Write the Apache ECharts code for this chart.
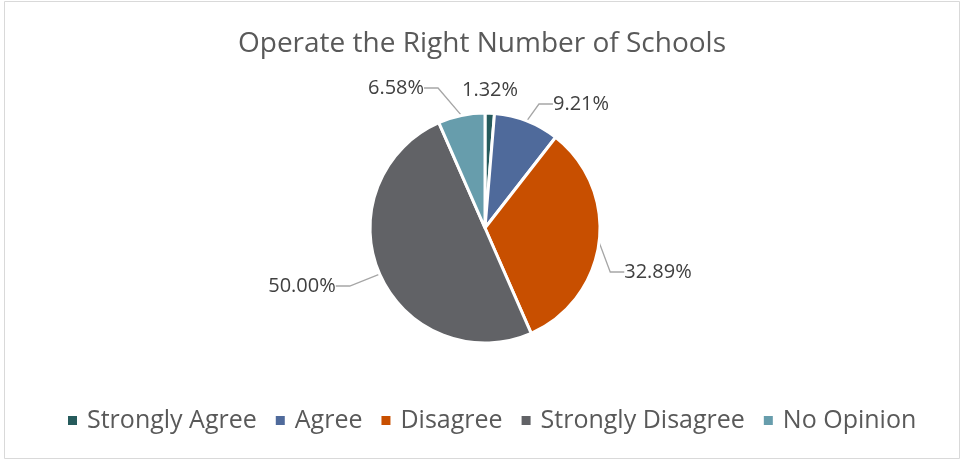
<!DOCTYPE html>
<html>
<head>
<meta charset="utf-8">
<script src="https://cdn.jsdelivr.net/npm/echarts@6/dist/echarts.min.js"></script>
<style>
  html, body { margin: 0; padding: 0; background: #fff; }
  #chart { width: 964px; height: 463px; }
</style>
</head>
<body>
<div id="chart"></div>
<script>
// Survey responses for "Operate the Right Number of Schools"
const categories = ['Strongly Agree', 'Agree', 'Disagree', 'Strongly Disagree', 'No Opinion'];
const percents = [1.32, 9.21, 32.89, 50.00, 6.58];
const colors = ['#265B5C', '#4F6A9B', '#C84F00', '#616266', '#679DAC'];

// Where each percentage label sits around the pie (label centres, in px)
const labelSpots = [[490, 90], [581, 104], [658, 272], [302, 286], [396, 88]];

const chart = echarts.init(document.getElementById('chart'));
const fontFamily = '"Open Sans", "Noto Sans", sans-serif';

chart.setOption({
  backgroundColor: '#ffffff',
  color: colors,
  title: {
    text: 'Operate the Right Number of Schools',
    left: 'center',
    top: 25,
    textStyle: { fontFamily, fontSize: 28, fontWeight: 'normal', color: '#595959' }
  },
  legend: {
    data: categories,
    top: 403,
    left: 61,
    icon: 'rect',
    itemWidth: 11,
    itemHeight: 11,
    itemGap: 17,
    textStyle: { fontFamily, fontSize: 25, color: '#595959', padding: [0, 0, 0, 4] }
  },
  graphic: [{
    type: 'rect',
    shape: { x: 4.5, y: 1.5, width: 955, height: 457 },
    style: { fill: 'none', stroke: '#d9d9d9', lineWidth: 1 },
    silent: true
  }],
  series: [{
    type: 'pie',
    center: [485, 228],
    radius: 115,
    startAngle: 90,
    clockwise: true,
    avoidLabelOverlap: false,
    itemStyle: { borderColor: '#ffffff', borderWidth: 3 },
    label: {
      show: true,
      formatter: p => p.value.toFixed(2) + '%',
      fontFamily,
      fontSize: 20,
      color: '#404040'
    },
    labelLine: {
      show: true,
      length: 12,
      length2: 14,
      lineStyle: { color: '#a6a6a6', width: 1.3 }
    },
    labelLayout: p => ({
      x: labelSpots[p.dataIndex][0],
      y: labelSpots[p.dataIndex][1],
      align: 'center',
      verticalAlign: 'middle',
      hideOverlap: false,
      moveOverlap: null
    }),
    emphasis: { disabled: true },
    data: categories.map((name, i) => ({
      name,
      value: percents[i],
      labelLine: { show: i !== 0 }
    }))
  }]
});
</script>
</body>
</html>
